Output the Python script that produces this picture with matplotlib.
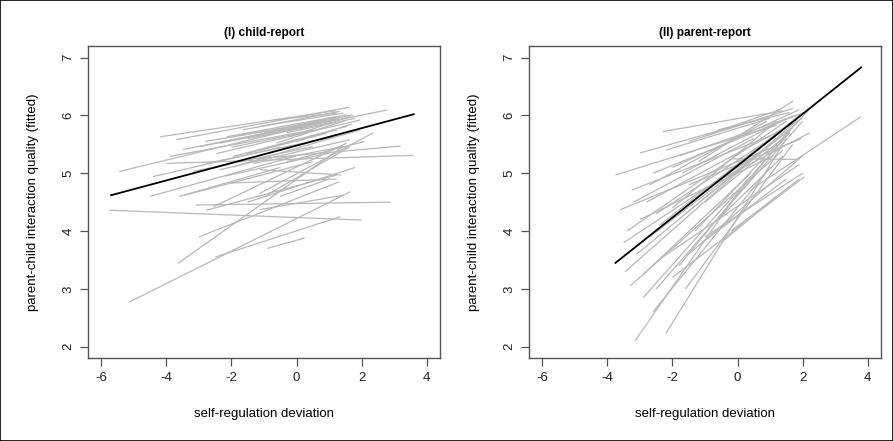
import matplotlib
matplotlib.use("Agg")
import matplotlib.pyplot as plt
from matplotlib.patches import Rectangle

plt.rcParams['font.family'] = ['Liberation Sans', 'DejaVu Sans']

# panel (I) child-report: individual fitted lines (x0, y0) -> (x1, y1)
child_x0 = [-4.2, -3.7, -5.45, -4.0, -1.2, -5.75, -3.1, -5.15, -3.65, -3.0,
            -0.9, -2.5, -4.5, -3.6, -2.77, -2.05, -2.56, -1.13, -0.92, -3.49,
            -3.9, -2.97, -2.36, -2.15, -1.64, -1.13, -2.46, -1.95, -1.54, -2.77,
            -3.18, -2.36, -1.95, -1.33, -1.13, -0.62, -0.21, -0.72, -0.10, -1.0,
            -0.5, -1.8, -4.42, -3.44, -1.5, -0.5, -1.13, -1.13, -2.2, -0.3,
            -2.8, -0.3, 0.0, -1.5, -2.0]
child_y0 = [5.63, 5.58, 5.03, 5.17, 5.25, 4.36, 4.45, 2.77, 3.44, 3.9,
            3.7, 3.55, 4.6, 4.6, 4.36, 4.83, 4.42, 4.65, 4.62, 5.41,
            5.29, 5.46, 5.52, 5.63, 5.75, 5.81, 5.34, 5.29, 5.34, 5.17,
            5.03, 5.06, 5.11, 5.17, 5.40, 5.52, 5.63, 5.92, 5.81, 5.7,
            5.75, 5.65, 4.94, 4.62, 4.5, 4.6, 4.37, 5.06, 4.95, 5.2,
            5.55, 5.7, 5.55, 5.6, 5.45]
child_x1 = [1.2, 1.6, 1.3, 3.6, 3.2, 2.0, 2.9, 1.65, 1.4, 1.3,
            0.25, 1.35, 0.0, -0.5, 1.23, 1.23, 1.54, 2.36, 1.64, 1.13,
            0.51, 1.74, 2.77, 1.23, 1.33, 1.44, 1.95, 1.54, 0.92, 1.13,
            0.51, 1.64, 1.95, 1.44, 1.23, 1.54, 1.64, 1.23, 1.54, 1.0,
            1.2, 0.8, -0.5, 0.5, 1.8, 1.0, 1.43, 1.38, 1.0, 2.1,
            0.9, 1.8, 1.7, 1.1, 0.6]
child_y1 = [6.08, 6.14, 5.95, 5.31, 5.47, 4.19, 4.50, 4.68, 5.45, 4.85,
            3.88, 4.25, 5.3, 5.1, 4.97, 4.9, 5.52, 5.7, 5.46, 5.92,
            5.75, 6.01, 6.09, 5.98, 6.07, 6.04, 5.92, 5.81, 5.69, 5.63,
            5.46, 5.58, 5.75, 5.46, 5.75, 5.92, 5.98, 6.04, 6.01, 5.95,
            5.97, 5.9, 5.45, 5.2, 5.1, 4.9, 4.62, 4.97, 5.35, 5.55,
            5.9, 5.95, 5.85, 5.88, 5.75]
child_avg_x = [-5.7, 3.6]
child_avg_y = [4.62, 6.02]

# panel (II) parent-report
parent_x0 = [-2.3, -3.0, -3.75, -3.25, -3.6, -1.5, -1.0, -1.8, -0.6, -2.6,
             -2.0, -1.2, -3.4, -2.8, -0.5, -1.5, -3.0, 0.5, -0.2, -3.15,
             -2.2, -2.6, -2.9, -3.3, -3.45, -2.5, -2.0, -2.3, -1.8, -1.5,
             -1.2, -1.0, -3.1, -2.7, -2.4, -1.6, -1.0, -2.0, -0.6, -3.5,
             -2.9, -1.6, -0.5, -0.2, -1.3, -2.7, -2.2, -3.2, -1.7, -2.5]
parent_y0 = [5.72, 5.35, 4.97, 4.71, 4.37, 5.55, 5.65, 5.3, 5.75, 5.0,
             5.1, 5.2, 4.0, 4.5, 4.9, 4.8, 4.2, 4.75, 5.25, 2.1,
             2.23, 2.6, 2.85, 3.05, 3.3, 3.0, 3.2, 3.55, 3.4, 3.6,
             3.75, 3.9, 3.6, 3.9, 4.1, 4.3, 4.5, 4.4, 4.2, 3.8,
             3.25, 3.0, 3.8, 4.0, 4.0, 4.8, 5.4, 4.5, 5.0, 4.3]
parent_x1 = [1.4, 0.9, 1.2, 1.0, 1.3, 1.7, 1.35, 2.16, 1.6, 1.8,
             1.9, 1.71, 1.5, 2.0, 2.22, 1.96, 1.1, 3.8, 1.9, 0.3,
             1.5, 1.0, 1.6, 1.4, 1.8, 2.0, 2.06, 1.9, 1.7, 2.0,
             1.5, 2.0, 1.2, 1.6, 1.9, 1.8, 1.6, 1.2, 1.4, 0.8,
             0.4, 1.7, 1.2, 1.9, 2.2, 0.9, 1.0, 0.5, 1.5, 1.3]
parent_y1 = [6.08, 5.97, 5.83, 5.64, 5.5, 6.12, 6.11, 6.07, 6.05, 6.0,
             6.1, 6.25, 5.9, 5.95, 5.7, 5.6, 5.3, 5.98, 5.24, 4.9,
             5.6, 5.1, 5.7, 5.4, 5.9, 5.9, 4.94, 5.15, 5.8, 5.3,
             4.9, 5.0, 5.6, 5.75, 6.0, 5.85, 5.7, 5.9, 5.3, 5.4,
             5.0, 5.5, 4.6, 4.9, 6.1, 5.9, 5.95, 5.6, 5.95, 5.7]
parent_avg_x = [-3.75, 3.8]
parent_avg_y = [3.45, 6.83]

panels = [
    ("(I) child-report", child_x0, child_y0, child_x1, child_y1, child_avg_x, child_avg_y),
    ("(II) parent-report", parent_x0, parent_y0, parent_x1, parent_y1, parent_avg_x, parent_avg_y),
]
x_ticks = [-6, -4, -2, 0, 2, 4]
y_ticks = [2, 3, 4, 5, 6, 7]

fig = plt.figure(figsize=(8.93, 4.41), dpi=100)
fig.patches.append(Rectangle((0, 0), 1, 1, transform=fig.transFigure,
                             fill=False, edgecolor='black', lw=1.2))

lefts = [0.0989, 0.5927]
for left, (title, x0, y0, x1, y1, ax_x, ax_y) in zip(lefts, panels):
    ax = fig.add_axes([left, 0.1875, 0.3935, 0.7082])
    for a, b, c, d in zip(x0, y0, x1, y1):
        ax.plot([a, c], [b, d], color='#b8b8b8', lw=0.9, solid_capstyle='butt')
    ax.plot(ax_x, ax_y, color='black', lw=1.3)

    ax.set_xlim(-6.4, 4.4)
    ax.set_ylim(1.8, 7.2)
    ax.set_xticks(x_ticks)
    ax.set_xticklabels([str(t) for t in x_ticks])
    ax.set_yticks(y_ticks)
    ax.set_yticklabels([str(t) for t in y_ticks])
    for lab in ax.get_yticklabels():
        lab.set_rotation(90)
        lab.set_va('center')
    ax.tick_params(direction='out', length=6, width=0.9, color='#555555',
                   labelsize=9.5, pad=4, labelcolor='#222222')
    for s in ax.spines.values():
        s.set_color('#555555')
        s.set_linewidth(1.0)

    ax.set_title(title, fontsize=8.5, fontweight='bold', pad=7)
    ax.set_xlabel("self-regulation deviation", fontsize=9.5)
    ax.xaxis.set_label_coords(0.5, -0.16)
    ax.set_ylabel("parent-child interaction quality (fitted)", fontsize=9.5)
    ax.yaxis.set_label_coords(-0.14, 0.5)

fig.savefig("out.png", dpi=100)
